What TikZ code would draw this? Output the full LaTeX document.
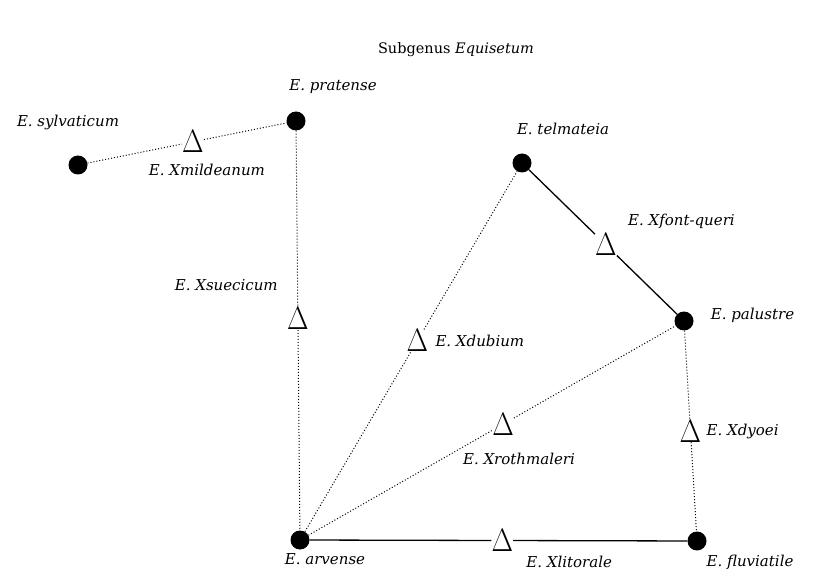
\documentclass[tikz,border=0pt]{standalone}
\usepackage{fontspec}
\setmainfont{DejaVu Serif}
\usepackage{tikz}
\usetikzlibrary{positioning}
\newcommand{\hybmark}{\scalebox{1.12}[1.3]{$\Delta$}}
\tikzset{
  species/.style={circle, fill=black, inner sep=0pt, minimum size=19pt},
  hybrid/.style={inner sep=0pt, font=\fontsize{24.88}{25}\selectfont},
  taxon/.style={font=\fontsize{15}{17}\selectfont\itshape, inner sep=1pt},
  cross/.style={dotted, line width=1pt},
  link/.style={line width=1.3pt}
}

\begin{document}
\begin{tikzpicture}[x=1pt, y=-1pt]
  \useasboundingbox (0,0) rectangle (823,572);
  \node[font=\fontsize{14.5}{16}\selectfont] (title) at (456,50) {Subgenus \textit{Equisetum}};
  % parent species
  \node[species] (sylvaticum) at (78,165) {};
  \node[species] (pratense) at (296,121) {};
  \node[species] (telmateia) at (522,163) {};
  \node[species] (palustre) at (684,321) {};
  \node[species] (arvense) at (300,540) {};
  \node[species] (fluviatile) at (697,541) {};
  % hybrids
  \path (sylvaticum) -- node[hybrid, pos=0.53] (mildeanum) {\hybmark} (pratense);
  \path (pratense) -- node[hybrid, pos=0.47] (suecicum) {\hybmark} (arvense);
  \path (arvense) -- node[hybrid, pos=0.53] (dubium) {\hybmark} (telmateia);
  \path (telmateia) -- node[hybrid, pos=0.52] (fontqueri) {\hybmark} (palustre);
  \path (arvense) -- node[hybrid, pos=0.53] (rothmaleri) {\hybmark} (palustre);
  \path (palustre) -- node[hybrid, pos=0.5] (dyoei) {\hybmark} (fluviatile);
  \path (arvense) -- node[hybrid, pos=0.51] (litorale) {\hybmark} (fluviatile);
  % connectors
  \draw[cross] (sylvaticum) -- (mildeanum) -- (pratense);
  \draw[cross] (pratense) -- (suecicum) -- (arvense);
  \draw[cross] (arvense) -- (dubium) -- (telmateia);
  \draw[link] (telmateia) -- (fontqueri) -- (palustre);
  \draw[cross] (arvense) -- (rothmaleri) -- (palustre);
  \draw[cross] (palustre) -- (dyoei) -- (fluviatile);
  \draw[link] (arvense) -- (litorale) -- (fluviatile);
  % labels
  \node[taxon, above=24pt of sylvaticum, xshift=-10pt] (sylvaticumL) {E. sylvaticum};
  \node[taxon, above=16pt of pratense, xshift=37pt] (pratenseL) {E. pratense};
  \node[taxon, above=17pt of telmateia, xshift=41pt] (telmateiaL) {E. telmateia};
  \node[taxon, right=16pt of palustre, yshift=6pt] (palustreL) {E. palustre};
  \node[taxon, below=3pt of arvense, xshift=25pt] (arvenseL) {E. arvense};
  \node[taxon, below=3pt of fluviatile, xshift=53pt] (fluviatileL) {E. fluviatile};
  \node[taxon, below=10pt of mildeanum, xshift=14pt] (mildeanumL) {E. Xmildeanum};
  \node[taxon, left=8pt of suecicum, yshift=33pt] (suecicumL) {E. Xsuecicum};
  \node[taxon, right=6pt of dubium] (dubiumL) {E. Xdubium};
  \node[taxon, above right=4pt and 10pt of fontqueri] (fontqueriL) {E. Xfont-queri};
  \node[taxon, below=16pt of rothmaleri, xshift=16pt] (rothmaleriL) {E. Xrothmaleri};
  \node[taxon, right=4pt of dyoei] (dyoeiL) {E. Xdyoei};
  \node[taxon, below right=3pt and 12pt of litorale] (litoraleL) {E. Xlitorale};
\end{tikzpicture}
\end{document}
